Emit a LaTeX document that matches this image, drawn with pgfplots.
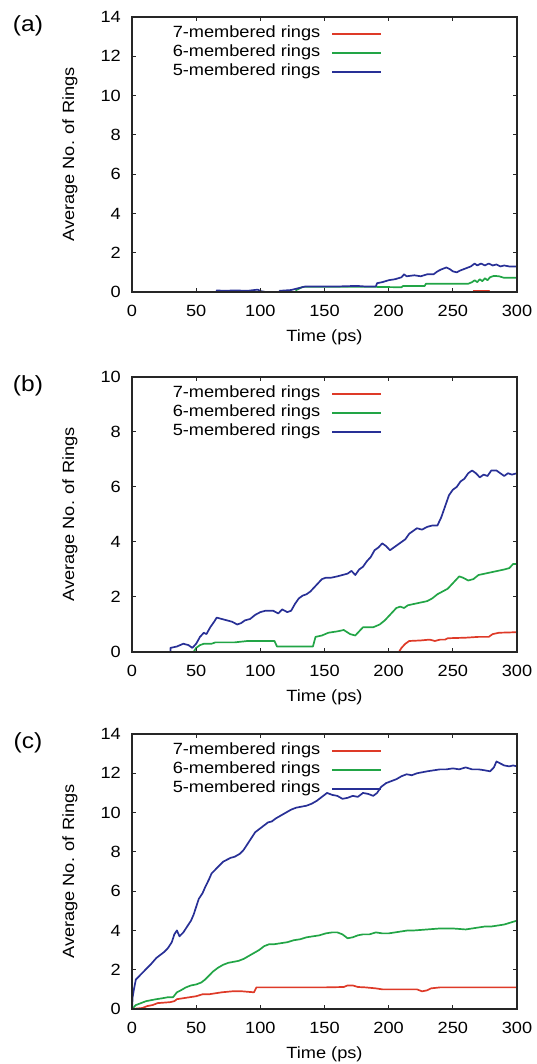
\documentclass[border=0pt]{standalone}
\usepackage{fontspec}
\setmainfont{Liberation Sans}[FakeStretch=1.12]
\usepackage{pgfplots}
\pgfplotsset{compat=1.18}
\definecolor{cred}{RGB}{222,58,40}
\definecolor{cgreen}{RGB}{34,165,70}
\definecolor{cblue}{RGB}{40,48,150}
\tikzset{plabel/.style={font=\fontsize{22}{26}\selectfont, anchor=center, xshift=-104bp, yshift=-9bp}}
\pgfplotsset{
 ringaxis/.style={
  scale only axis, width=385bp, height=275bp,
  xmin=0, xmax=300, ymin=0,
  xtick={0,50,...,300},
  tick align=inside, tick pos=both,
  major tick length=4bp,
  axis on top,
  axis line style={line width=1.2bp, black!85},
  tick style={line width=1bp, black!85},
  font=\fontsize{16.3}{19}\selectfont,
  /pgf/number format/assume math mode=true,
  xticklabel style={anchor=center, yshift=-19bp, inner sep=0pt},
  yticklabel style={anchor=east, xshift=-11bp, inner sep=0pt},
  xlabel={Time (ps)}, ylabel={Average No. of Rings},
  xlabel style={at={(axis description cs:0.5,0)}, anchor=center, yshift=-45bp},
  ylabel style={at={(axis description cs:-0.161,0.5)}, anchor=center},
  clip mode=individual,
  legend plot pos=right,
  legend cell align=right,
  legend style={draw=none, fill=none, at={(axis description cs:0.65,1)}, anchor=north east, yshift=-7bp, inner sep=0pt, row sep=0pt, nodes={inner sep=0pt, text height=13.5bp, text depth=5.5bp}, /tikz/every odd column/.append style={column sep=11bp}},
  legend image code/.code={\draw[#1, line width=1.7bp] (0bp,0bp) -- (49bp,0bp);},
  every axis plot/.append style={line width=1.7bp, line join=round},
 },
}
\begin{document}
\begin{tikzpicture}
\path[use as bounding box] (0,0) rectangle (537bp,1064bp);
% ---------------- (a)
\begin{axis}[ringaxis, at={(132bp,772bp)}, anchor=south west, ymax=14, ytick={0,2,...,14}]
\addplot[cred] coordinates {(266,0) (266,0.08) (278,0.08) (278,0)};
\addplot[cgreen] coordinates {(128,0) (128,0.1) (133,0.26) (190,0.26) (210,0.24) (211,0.3) (228,0.3) (229,0.42) (262,0.42) (265,0.5) (267,0.6) (269,0.5) (271,0.65) (273,0.55) (275,0.7) (277,0.6) (279,0.75) (282,0.82) (286,0.8) (290,0.72) (300,0.72)};
\addplot[cblue] coordinates {(66,0) (66,0.08) (72,0.06) (80,0.08) (90,0.06) (98,0.12) (100,0.05) (104,0) (115,0) (115,0.06) (124,0.1) (130,0.2) (135,0.28) (160,0.28) (175,0.31) (182,0.28) (190,0.28) (191,0.45) (195,0.5) (200,0.6) (205,0.65) (210,0.75) (212,0.9) (214,0.8) (220,0.85) (225,0.8) (230,0.9) (235,0.9) (238,1.05) (241,1.15) (245,1.25) (248,1.15) (250,1.05) (253,1.0) (256,1.1) (260,1.2) (264,1.3) (267,1.45) (269,1.35) (272,1.45) (275,1.35) (278,1.45) (281,1.35) (284,1.4) (287,1.3) (290,1.35) (294,1.3) (300,1.3)};
\legend{7-membered rings,6-membered rings,5-membered rings}
\node[plabel] at (axis description cs:0,1) {(a)};
\end{axis}
% ---------------- (b)
\begin{axis}[ringaxis, at={(132bp,412bp)}, anchor=south west, ymax=10, ytick={0,2,...,10}]
\addplot[cred] coordinates {(208,0) (210,0.15) (213,0.3) (216,0.4) (225,0.42) (232,0.45) (236,0.4) (240,0.45) (244,0.45) (246,0.5) (260,0.52) (270,0.55) (278,0.55) (281,0.65) (286,0.7) (300,0.72)};
\addplot[cgreen] coordinates {(48,0) (50,0.15) (53,0.25) (56,0.3) (62,0.3) (65,0.35) (80,0.35) (90,0.4) (100,0.4) (111,0.4) (113,0.2) (141,0.2) (143,0.55) (148,0.6) (153,0.7) (160,0.75) (165,0.8) (170,0.65) (174,0.6) (177,0.75) (180,0.9) (188,0.9) (193,1.0) (197,1.15) (200,1.3) (203,1.45) (206,1.6) (209,1.65) (212,1.6) (215,1.7) (220,1.75) (225,1.8) (230,1.85) (234,1.95) (238,2.1) (242,2.2) (246,2.3) (249,2.45) (252,2.6) (255,2.75) (258,2.7) (262,2.6) (266,2.65) (270,2.8) (275,2.85) (280,2.9) (285,2.95) (290,3.0) (294,3.05) (297,3.2) (300,3.2)};
\addplot[cblue] coordinates {(30,0) (30,0.15) (35,0.2) (40,0.3) (44,0.25) (47,0.15) (50,0.3) (53,0.55) (56,0.7) (58,0.65) (61,0.9) (64,1.1) (66,1.25) (70,1.2) (74,1.15) (78,1.1) (82,1.0) (85,1.05) (88,1.15) (92,1.2) (96,1.35) (100,1.45) (104,1.5) (110,1.5) (114,1.4) (117,1.55) (121,1.45) (124,1.5) (127,1.75) (130,1.95) (133,2.05) (136,2.1) (139,2.2) (142,2.35) (145,2.5) (148,2.65) (151,2.7) (155,2.7) (160,2.75) (164,2.8) (168,2.85) (171,2.95) (174,2.8) (177,3.0) (180,3.1) (183,3.3) (186,3.45) (189,3.7) (192,3.8) (195,3.95) (198,3.85) (201,3.7) (204,3.8) (207,3.9) (210,4.0) (213,4.1) (216,4.3) (219,4.4) (222,4.5) (226,4.45) (230,4.55) (234,4.6) (238,4.6) (241,4.9) (244,5.3) (247,5.7) (250,5.9) (253,6.0) (256,6.2) (259,6.3) (262,6.5) (265,6.6) (268,6.5) (271,6.35) (274,6.45) (277,6.4) (280,6.6) (284,6.6) (287,6.5) (290,6.4) (293,6.5) (296,6.45) (300,6.5)};
\legend{7-membered rings,6-membered rings,5-membered rings}
\node[plabel] at (axis description cs:0,1) {(b)};
\end{axis}
% ---------------- (c)
\begin{axis}[ringaxis, at={(132bp,55bp)}, anchor=south west, ymax=14, ytick={0,2,...,14}]
\addplot[cred] coordinates {(0,0) (8,0.05) (12,0.15) (16,0.2) (20,0.3) (30,0.35) (33,0.4) (35,0.5) (40,0.55) (45,0.6) (50,0.65) (55,0.75) (60,0.75) (65,0.8) (70,0.85) (78,0.9) (86,0.9) (95,0.85) (97,1.1) (110,1.1) (130,1.1) (150,1.1) (165,1.12) (168,1.2) (172,1.2) (176,1.12) (182,1.1) (190,1.05) (195,1.0) (205,1.0) (215,1.0) (222,1.0) (226,0.9) (230,0.95) (233,1.05) (240,1.1) (260,1.1) (300,1.1)};
\addplot[cgreen] coordinates {(0,0) (3,0.2) (7,0.3) (11,0.4) (15,0.45) (19,0.5) (24,0.55) (28,0.6) (32,0.6) (35,0.85) (38,0.95) (42,1.1) (46,1.2) (50,1.25) (54,1.35) (57,1.5) (60,1.7) (63,1.9) (67,2.1) (71,2.25) (75,2.35) (79,2.4) (83,2.45) (87,2.55) (91,2.7) (95,2.85) (99,3.0) (103,3.2) (107,3.3) (111,3.3) (116,3.35) (121,3.4) (126,3.5) (131,3.55) (136,3.65) (141,3.7) (146,3.75) (151,3.85) (156,3.9) (160,3.9) (164,3.8) (168,3.6) (172,3.65) (176,3.75) (180,3.8) (185,3.8) (190,3.9) (195,3.85) (200,3.85) (205,3.9) (210,3.95) (215,4.0) (220,4.0) (230,4.05) (240,4.1) (250,4.1) (260,4.05) (265,4.1) (270,4.15) (275,4.2) (280,4.2) (285,4.25) (290,4.3) (295,4.4) (300,4.5)};
\addplot[cblue] coordinates {(0,0) (0.5,0.6) (1.5,1.0) (3,1.5) (6,1.7) (9,1.9) (12,2.1) (15,2.3) (19,2.6) (22,2.75) (25,2.9) (28,3.1) (31,3.4) (33,3.8) (35,4.0) (37,3.7) (40,3.9) (43,4.2) (46,4.5) (48,4.8) (50,5.2) (52,5.6) (55,5.9) (57,6.2) (60,6.6) (62,6.9) (65,7.1) (68,7.3) (71,7.5) (74,7.6) (77,7.7) (80,7.75) (84,7.9) (87,8.1) (90,8.4) (93,8.7) (96,9.0) (100,9.2) (103,9.35) (106,9.5) (109,9.55) (112,9.7) (116,9.85) (120,10.0) (124,10.15) (128,10.25) (132,10.3) (136,10.35) (140,10.45) (144,10.6) (148,10.8) (152,11.0) (156,10.9) (160,10.85) (164,10.7) (168,10.75) (172,10.85) (176,10.8) (180,11.0) (184,10.95) (188,10.85) (191,11.0) (194,11.3) (198,11.5) (202,11.6) (206,11.7) (210,11.85) (214,11.95) (218,11.9) (222,12.0) (226,12.05) (230,12.1) (235,12.15) (240,12.2) (245,12.2) (250,12.25) (255,12.2) (260,12.3) (265,12.2) (270,12.2) (275,12.15) (279,12.1) (282,12.3) (284,12.6) (287,12.5) (290,12.4) (294,12.35) (297,12.4) (300,12.35)};
\legend{7-membered rings,6-membered rings,5-membered rings}
\node[plabel] at (axis description cs:0,1) {(c)};
\end{axis}
\end{tikzpicture}
\end{document}
